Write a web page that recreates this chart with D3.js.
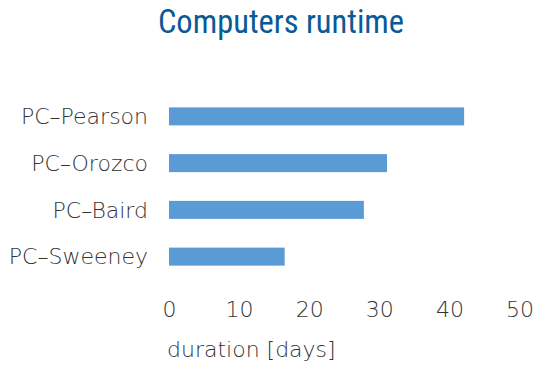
<!DOCTYPE html>
<html>
<head>
<meta charset="utf-8">
<script src="https://cdn.jsdelivr.net/npm/d3@7"></script>
<style>
  html, body { margin: 0; padding: 0; background: #fff; }
  svg { display: block; }
  .lbl { font-family: "DejaVu Sans", sans-serif; font-weight: 200; fill: #333; font-size: 22px; }
</style>
</head>
<body>
<svg id="chart" width="539" height="376"></svg>
<script>
// Runtime per computer, in days
const computers = ["PC\u2013Pearson", "PC\u2013Orozco", "PC\u2013Baird", "PC\u2013Sweeney"];
const durations = [42.1, 31.1, 27.8, 16.5];
const tickValues = [0, 10, 20, 30, 40, 50];
const titleText = "Computers runtime";
const axisTitle = "duration [days]";

const svg = d3.select("#chart");

const x = d3.scaleLinear().domain([0, 50]).range([169, 519.5]);
const y = d3.scaleBand()
  .domain(computers)
  .range([93, 280])
  .paddingInner(0.615)
  .paddingOuter(0.3075);

// Title
svg.append("text")
  .attr("x", 281)
  .attr("y", 33)
  .attr("text-anchor", "middle")
  .style("font-family", "'Roboto Condensed', 'Roboto', sans-serif")
  .style("font-size", "32.5px")
  .style("fill", "#0a5a96")
  .text(titleText);

// Bars
svg.append("g")
  .selectAll("rect")
  .data(computers.map((c, i) => ({ name: c, value: durations[i] })))
  .join("rect")
  .attr("x", x(0))
  .attr("y", d => y(d.name))
  .attr("width", d => x(d.value) - x(0))
  .attr("height", y.bandwidth())
  .attr("fill", "#5b9bd5");

// Category axis (labels only)
const yAxis = svg.append("g")
  .attr("transform", `translate(148,0)`)
  .call(d3.axisLeft(y).tickSize(0).tickPadding(0));
yAxis.select(".domain").remove();
yAxis.selectAll("text")
  .attr("class", "lbl")
  .attr("dy", "0.35em");

// Value axis (labels only)
const xAxis = svg.append("g")
  .attr("transform", "translate(0,317)")
  .call(d3.axisBottom(x).tickValues(tickValues).tickSize(0).tickPadding(0));
xAxis.select(".domain").remove();
xAxis.selectAll("text")
  .attr("class", "lbl")
  .attr("dy", "0")
  .attr("y", 0);

// Axis title
svg.append("text")
  .attr("class", "lbl")
  .attr("x", 167)
  .attr("y", 357)
  .text(axisTitle);
</script>
</body>
</html>
